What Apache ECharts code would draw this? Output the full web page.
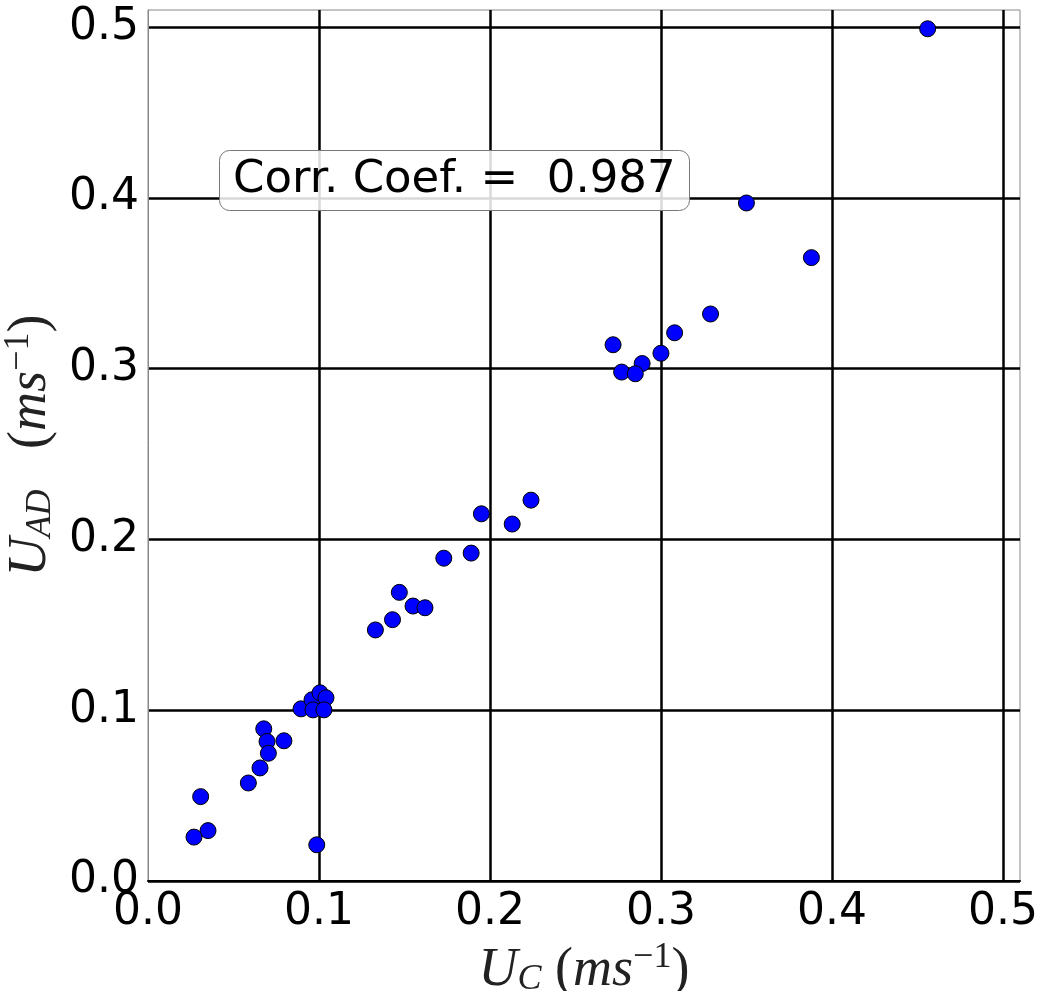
<!DOCTYPE html>
<html>
<head>
<meta charset="utf-8">
<script src="https://cdn.jsdelivr.net/npm/echarts@6/dist/echarts.min.js"></script>
<style>
  html, body { margin: 0; padding: 0; background: #fff; }
  #main { width: 1041px; height: 991px; }
</style>
</head>
<body>
<div id="main"></div>
<script>
// U_C 和 U_AD 的散点数据
var uc = [0.456, 0.350, 0.388, 0.329, 0.308, 0.272, 0.300, 0.289, 0.277, 0.285,
          0.224, 0.195, 0.213, 0.189, 0.173, 0.147, 0.155, 0.162, 0.143, 0.133,
          0.0895, 0.0959, 0.1006, 0.1041, 0.0965, 0.1029,
          0.0677, 0.0696, 0.0795, 0.0704, 0.0655, 0.0587, 0.0308, 0.0351, 0.0269, 0.0987];
var uad = [0.499, 0.397, 0.365, 0.332, 0.321, 0.314, 0.309, 0.303, 0.298, 0.297,
           0.223, 0.215, 0.209, 0.192, 0.189, 0.169, 0.161, 0.160, 0.153, 0.147,
           0.1008, 0.1061, 0.1102, 0.1073, 0.1002, 0.1002,
           0.0891, 0.0817, 0.0821, 0.0748, 0.0662, 0.0574, 0.0494, 0.0295, 0.0257, 0.0212];
var corrText = 'Corr. Coef. =  0.987';

var points = [];
for (var i = 0; i < uc.length; i++) {
  points.push([uc[i], uad[i]]);
}

var mathRich = {
  u: { fontFamily: 'Liberation Serif', fontStyle: 'italic', fontSize: 54, color: '#222' },
  p: { fontFamily: 'Liberation Serif', fontSize: 54, color: '#222' },
  sub: { fontFamily: 'Liberation Serif', fontStyle: 'italic', fontSize: 36, color: '#222', padding: [18, 0, 0, 0] },
  sup: { fontFamily: 'Liberation Serif', fontSize: 36, color: '#222', padding: [0, 0, 26, 0] }
};

var chart = echarts.init(document.getElementById('main'));
var option = {
  animation: false,
  backgroundColor: '#fff',
  title: {
    text: corrText,
    left: 219,
    top: 150,
    padding: [8, 14, 8, 14],
    backgroundColor: 'rgba(255,255,255,0.85)',
    borderColor: '#777',
    borderWidth: 1,
    borderRadius: 10,
    textStyle: { fontFamily: 'DejaVu Sans', fontSize: 45, fontWeight: 'normal', color: '#000' }
  },
  grid: {
    left: 148, top: 10, width: 872, height: 871,
    outerBoundsMode: 'none', containLabel: false,
    show: true, borderColor: '#888', borderWidth: 1
  },
  xAxis: {
    type: 'value', min: 0, max: 0.51, interval: 0.1,
    name: '{u|U}{sub|C}{p| (}{u|ms}{sup|−1}{p|)}',
    nameLocation: 'middle', nameGap: 42,
    nameTextStyle: { rich: mathRich },
    axisLine: { show: true, lineStyle: { color: '#000', width: 2 } },
    axisTick: { show: false },
    axisLabel: {
      fontFamily: 'DejaVu Sans', fontSize: 44, color: '#000', margin: 10,
      showMaxLabel: false,
      formatter: function (v) { return v.toFixed(1); }
    },
    splitLine: { show: true, showMinLine: false, showMaxLine: false, lineStyle: { color: '#000', width: 2.5 } }
  },
  yAxis: {
    type: 'value', min: 0, max: 0.51, interval: 0.1,
    name: '{u|U}{sub|AD}{p|   (}{u|ms}{sup|−1}{p|)}',
    nameLocation: 'middle', nameGap: 70,
    nameTextStyle: { rich: mathRich },
    axisLine: { show: true, lineStyle: { color: '#888', width: 1 } },
    axisTick: { show: false },
    axisLabel: {
      fontFamily: 'DejaVu Sans', fontSize: 44, color: '#000', margin: 9,
      showMaxLabel: false,
      formatter: function (v) { return v.toFixed(1); }
    },
    splitLine: { show: true, showMinLine: true, showMaxLine: false, lineStyle: { color: '#000', width: 2.5 } }
  },
  series: [{
    type: 'scatter',
    data: points,
    symbolSize: 16,
    itemStyle: { color: '#0000ff', borderColor: '#000', borderWidth: 1, opacity: 1 }
  }]
};
chart.setOption(option);
</script>
</body>
</html>
